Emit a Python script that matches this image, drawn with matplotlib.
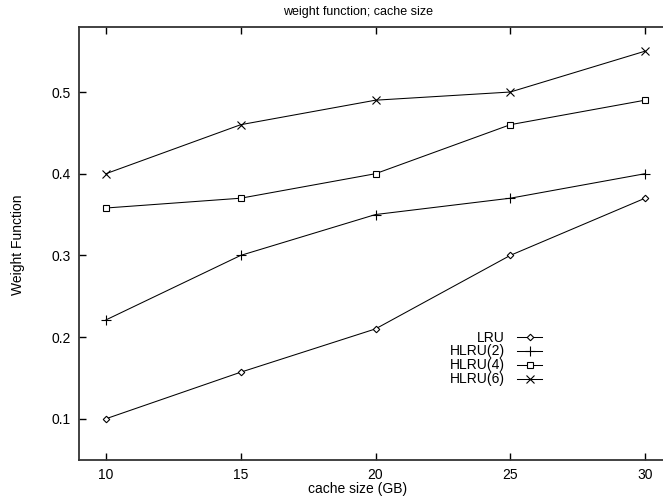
import matplotlib
matplotlib.use('Agg')
import matplotlib.pyplot as plt

plt.rcParams['font.family'] = ['Liberation Sans', 'DejaVu Sans']

cache_size = [10, 15, 20, 25, 30]
lru = [0.10, 0.157, 0.21, 0.30, 0.37]
hlru2 = [0.221, 0.30, 0.35, 0.37, 0.40]
hlru4 = [0.358, 0.37, 0.40, 0.46, 0.49]
hlru6 = [0.40, 0.46, 0.49, 0.50, 0.55]

fig = plt.figure(figsize=(6.63, 5), dpi=100)
# right side of the plot box is cropped off the canvas, as in the original
ax = fig.add_axes([79/663, 40/500, (672-79)/663, (460-27)/500])

kw = dict(color='black', linewidth=0.75, markerfacecolor='white',
          markeredgecolor='black', markeredgewidth=0.8)
ax.plot(cache_size, lru, marker='D', markersize=3.3, label='LRU', **kw)
ax.plot(cache_size, hlru2, marker='+', markersize=6.5, label='HLRU(2)', **kw)
ax.plot(cache_size, hlru4, marker='s', markersize=4.6, label='HLRU(4)', **kw)
ax.plot(cache_size, hlru6, marker='x', markersize=5.2, label='HLRU(6)', **kw)

ax.set_xlim(9, 31)
ax.set_ylim(0.0495, 0.5796)
ax.set_xticks(cache_size)
ax.set_yticks([0.1, 0.2, 0.3, 0.4, 0.5])
ax.tick_params(direction='in', length=5, width=1, top=True, right=True,
               labelsize=10, pad=6)
for s in ax.spines.values():
    s.set_linewidth(1.3)
    s.set_color('#333333')

fig.text(358/663, 1 - 12/500, 'weight function; cache size', ha='center',
         va='center', fontsize=9)
fig.text(358/663, 1 - 489/500, 'cache size (GB)', ha='center', va='center',
         fontsize=10)
fig.text(18/663, 1 - 245/500, 'Weight Function', ha='center', va='center',
         rotation=90, fontsize=10)

ax.legend(loc='center right', bbox_to_anchor=(549/663, 1 - 358.5/500),
          bbox_transform=fig.transFigure, frameon=False, markerfirst=False,
          fontsize=10, handlelength=1.8, handletextpad=0.85,
          labelspacing=0.0, borderpad=0)

fig.savefig('out.png', dpi=100)
